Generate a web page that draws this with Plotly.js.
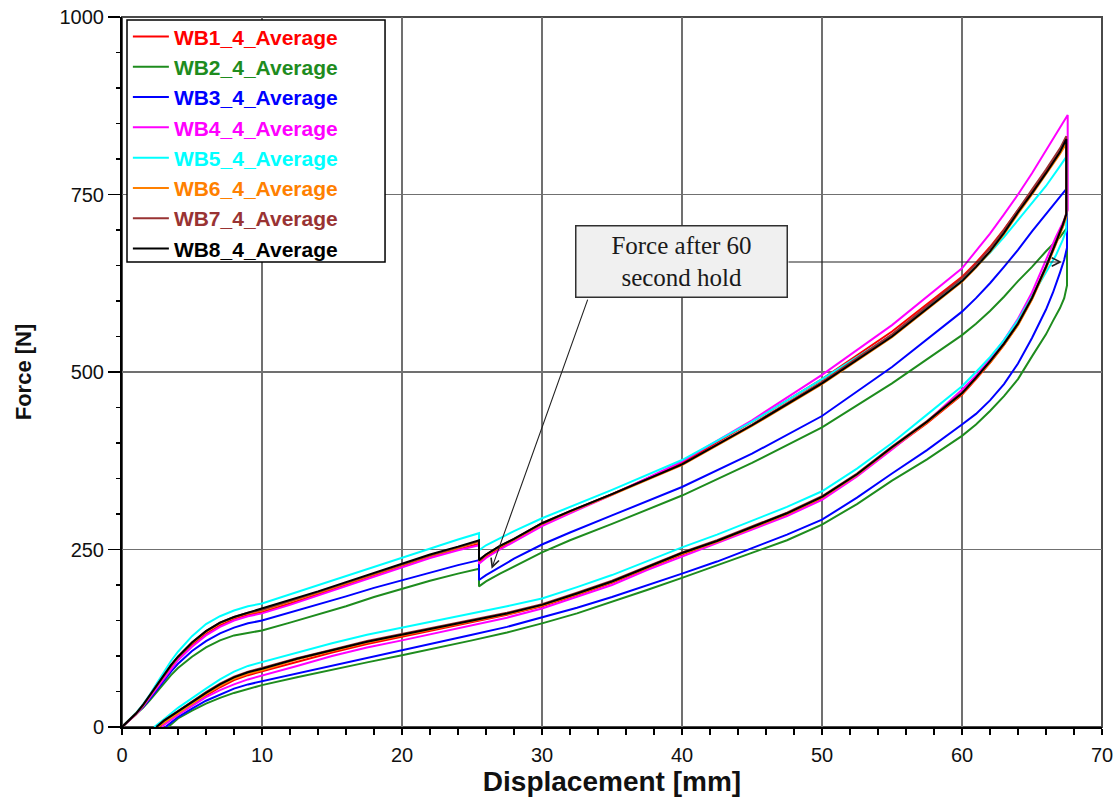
<!DOCTYPE html>
<html>
<head>
<meta charset="utf-8">
<script src="https://cdn.plot.ly/plotly-3.0.1.min.js"></script>
<style>
  html, body { margin: 0; padding: 0; background: #ffffff; }
  #chart { width: 1115px; height: 801px; }
</style>
</head>
<body>
<div id="chart"></div>
<script>
// Displacement grids shared by the loading branches (mm)
const preHoldX  = [0, 0.5, 1, 1.5, 2, 2.5, 3, 3.5, 4, 5, 6, 7, 8, 9, 10, 12, 14, 16, 18, 20, 22, 24, 25.5];
const postHoldX = [25.5, 26, 27, 28, 30, 32, 35, 40, 45, 50, 55, 60, 61, 62, 63, 64, 65, 66, 67];

const seriesNames  = ['WB1_4_Average', 'WB2_4_Average', 'WB3_4_Average', 'WB4_4_Average',
                      'WB5_4_Average', 'WB6_4_Average', 'WB7_4_Average', 'WB8_4_Average'];
const seriesColors = ['#ff0000', '#1e8c1e', '#0000ff', '#ff00ff',
                      '#00ffff', '#ff8000', '#993333', '#000000'];

// WB1
const wb1Pre  = [0, 9, 18, 30, 43, 58, 71, 84, 96, 116, 131, 143, 152, 158, 162, 174, 187, 200, 214, 227, 240, 250, 258];
const wb1Post = [232, 240, 252, 263, 285, 303, 328, 372, 430, 490, 557, 634, 654, 676, 701, 728, 754, 782, 810];
const wb1Peak = [67.45, 825, 720];
const wb1UnloadX = [67.2, 66.7, 66, 65, 64, 63, 62, 61, 60, 57.5, 55, 52.5, 50, 47.5, 45, 42.5, 40, 37.5, 35, 32.5, 30, 27.5, 25, 22.5, 20, 17.5, 15, 12.5, 10, 9, 8, 7, 6, 5, 4, 3, 2.6];
const wb1UnloadF = [705, 681, 647, 603, 567, 538, 513, 490, 468, 428, 392, 354, 322, 299, 279, 260, 243, 223, 203, 186, 170, 158, 148, 138, 128, 117, 105, 92, 78, 73, 66, 56, 44, 31, 18, 5, 0];

// WB2
const wb2Pre  = [0, 9, 17, 27, 38, 50, 62, 73, 83, 99, 112, 122, 129, 133, 136, 147, 158, 170, 183, 195, 206, 216, 223];
const wb2Post = [198, 205, 216, 226, 246, 263, 286, 326, 372, 422, 484, 552, 568, 586, 606, 628, 648, 670, 690];
const wb2Peak = [67.5, 703, 622];
const wb2UnloadX = [67.3, 67, 66.5, 66, 65, 64.5, 64, 63, 62, 61, 60, 57.5, 55, 52.5, 50, 47.5, 45, 42.5, 40, 37.5, 35, 32.5, 30, 27.5, 25, 22.5, 20, 17.5, 15, 12.5, 10, 9, 8, 7, 6, 5, 4, 3.3];
const wb2UnloadF = [604, 590, 572, 553, 522, 505, 490, 466, 445, 426, 410, 377, 347, 314, 285, 263, 245, 227, 210, 193, 176, 160, 146, 133, 122, 111, 101, 91, 81, 70, 59, 54, 48, 41, 33, 23, 12, 0];

// WB3
const wb3Pre  = [0, 9, 18, 28, 40, 53, 66, 78, 89, 107, 121, 132, 140, 146, 150, 161, 172, 184, 196, 207, 218, 228, 235];
const wb3Post = [207, 214, 226, 237, 257, 274, 298, 338, 385, 438, 507, 585, 604, 625, 648, 672, 698, 722, 746];
const wb3Peak = [67.5, 759, 675];
const wb3UnloadX = [67.3, 67, 66.5, 66, 65, 64, 63, 62, 61, 60, 57.5, 55, 52.5, 50, 47.5, 45, 42.5, 40, 37.5, 35, 32.5, 30, 27.5, 25, 22.5, 20, 17.5, 15, 12.5, 10, 9, 8, 7, 6, 5, 4, 3.1];
const wb3UnloadF = [658, 640, 612, 588, 548, 512, 483, 460, 441, 426, 390, 357, 323, 292, 271, 252, 233, 216, 199, 183, 168, 154, 141, 130, 119, 108, 98, 87, 76, 65, 60, 54, 46, 37, 26, 14, 0];

// WB4
const wb4Pre  = [0, 9, 18, 29, 42, 56, 69, 82, 94, 113, 129, 141, 150, 156, 160, 172, 185, 198, 212, 225, 238, 249, 256];
const wb4Post = [230, 238, 250, 261, 283, 301, 327, 374, 432, 496, 566, 646, 670, 695, 722, 750, 780, 812, 843];
const wb4Peak = [67.55, 862, 728];
const wb4UnloadX = [67.3, 66.7, 66, 65, 64, 63, 62, 61, 60, 57.5, 55, 52.5, 50, 47.5, 45, 42.5, 40, 37.5, 35, 32.5, 30, 27.5, 25, 22.5, 20, 17.5, 15, 12.5, 10, 9, 8, 7, 6, 5, 4, 3, 2.85];
const wb4UnloadF = [714, 690, 658, 612, 575, 545, 518, 495, 475, 430, 391, 353, 320, 297, 278, 259, 241, 221, 200, 183, 167, 154, 143, 133, 122, 112, 100, 86, 72, 67, 60, 52, 42, 30, 17, 3, 0];

// WB5
const wb5Pre  = [0, 10, 20, 32, 46, 62, 78, 93, 106, 128, 145, 156, 164, 170, 174, 187, 200, 213, 226, 239, 251, 264, 273];
const wb5Post = [249, 256, 266, 276, 294, 310, 334, 376, 430, 490, 552, 630, 648, 668, 690, 714, 738, 762, 790];
const wb5Peak = [67.45, 803, 700];
const wb5UnloadX = [67.2, 66.7, 66, 65, 64, 63, 62, 61, 60, 57.5, 55, 52.5, 50, 47.5, 45, 42.5, 40, 37.5, 35, 32.5, 30, 27.5, 25, 22.5, 20, 17.5, 15, 12.5, 10, 9, 8, 7, 6, 5, 4, 3, 2.3];
const wb5UnloadF = [686, 664, 640, 606, 573, 545, 521, 500, 480, 440, 400, 364, 332, 310, 290, 271, 253, 233, 214, 197, 181, 170, 160, 150, 141, 130, 118, 105, 92, 86, 78, 67, 54, 41, 27, 11, 0];

// WB6
const wb6Pre  = [0, 9, 19, 30, 44, 59, 73, 86, 98, 118, 134, 146, 154, 160, 164, 176, 189, 202, 215, 228, 241, 252, 261];
const wb6Post = [234, 242, 254, 264, 286, 303, 327, 369, 424, 483, 549, 627, 647, 669, 694, 723, 750, 778, 807];
const wb6Peak = [67.45, 822, 718];
const wb6UnloadX = [67.2, 66.7, 66, 65, 64, 63, 62, 61, 60, 57.5, 55, 52.5, 50, 47.5, 45, 42.5, 40, 37.5, 35, 32.5, 30, 27.5, 25, 22.5, 20, 17.5, 15, 12.5, 10, 9, 8, 7, 6, 5, 4, 3, 2.55];
const wb6UnloadF = [704, 680, 646, 602, 566, 538, 513, 491, 469, 429, 393, 355, 323, 300, 280, 261, 244, 224, 204, 187, 171, 159, 149, 139, 130, 119, 107, 95, 80, 75, 68, 58, 46, 33, 20, 6, 0];

// WB7
const wb7Pre  = [0, 9, 19, 31, 45, 60, 74, 87, 99, 119, 135, 147, 155, 161, 165, 177, 190, 203, 216, 229, 242, 253, 262];
const wb7Post = [235, 243, 255, 265, 287, 304, 328, 370, 426, 486, 553, 632, 652, 674, 700, 729, 757, 785, 815];
const wb7Peak = [67.45, 832, 724];
const wb7UnloadX = [67.2, 66.7, 66, 65, 64, 63, 62, 61, 60, 57.5, 55, 52.5, 50, 47.5, 45, 42.5, 40, 37.5, 35, 32.5, 30, 27.5, 25, 22.5, 20, 17.5, 15, 12.5, 10, 9, 8, 7, 6, 5, 4, 3, 2.5];
const wb7UnloadF = [708, 683, 649, 605, 569, 540, 515, 492, 471, 431, 395, 357, 325, 302, 282, 263, 246, 226, 206, 189, 173, 161, 151, 141, 132, 121, 109, 97, 83, 78, 71, 61, 49, 36, 23, 9, 0];

// WB8
const wb8Pre  = [0, 9, 19, 31, 45, 60, 74, 87, 99, 119, 135, 147, 155, 161, 166, 178, 191, 204, 217, 230, 243, 254, 263];
const wb8Post = [235, 243, 255, 265, 287, 304, 328, 370, 425, 484, 550, 628, 648, 670, 696, 725, 752, 780, 810];
const wb8Peak = [67.45, 828, 722];
const wb8UnloadX = [67.2, 66.7, 66, 65, 64, 63, 62, 61, 60, 57.5, 55, 52.5, 50, 47.5, 45, 42.5, 40, 37.5, 35, 32.5, 30, 27.5, 25, 22.5, 20, 17.5, 15, 12.5, 10, 9, 8, 7, 6, 5, 4, 3, 2.45];
const wb8UnloadF = [707, 682, 648, 604, 568, 540, 515, 492, 470, 430, 394, 356, 324, 301, 281, 262, 245, 225, 205, 188, 172, 160, 150, 140, 131, 120, 108, 96, 82, 77, 70, 60, 48, 35, 22, 9, 0];

const seriesData = [
  [wb1Pre, wb1Post, wb1Peak, wb1UnloadX, wb1UnloadF],
  [wb2Pre, wb2Post, wb2Peak, wb2UnloadX, wb2UnloadF],
  [wb3Pre, wb3Post, wb3Peak, wb3UnloadX, wb3UnloadF],
  [wb4Pre, wb4Post, wb4Peak, wb4UnloadX, wb4UnloadF],
  [wb5Pre, wb5Post, wb5Peak, wb5UnloadX, wb5UnloadF],
  [wb6Pre, wb6Post, wb6Peak, wb6UnloadX, wb6UnloadF],
  [wb7Pre, wb7Post, wb7Peak, wb7UnloadX, wb7UnloadF],
  [wb8Pre, wb8Post, wb8Peak, wb8UnloadX, wb8UnloadF]
];

// Load to the 60 s hold, relax, reload to peak, relax at peak, then unload
const traces = seriesData.map(function (s, i) {
  const pre = s[0], post = s[1], peak = s[2], ux = s[3], uf = s[4];
  return {
    type: 'scatter',
    mode: 'lines',
    name: '<span style="color:' + seriesColors[i] + '">' + seriesNames[i] + '</span>',
    legendgroup: 'g' + (i + 1),
    x: preHoldX.concat(postHoldX, [peak[0], peak[0]], ux),
    y: pre.concat(post, [peak[1], peak[2]], uf),
    line: { color: seriesColors[i], width: 2 },
    hoverinfo: 'skip'
  };
});

const tickColor = '#000000';
const gridColor = '#707070';

const layout = {
  width: 1115,
  height: 801,
  margin: { l: 122, r: 13, t: 17, b: 74 },
  paper_bgcolor: '#ffffff',
  plot_bgcolor: '#ffffff',
  font: { family: 'Liberation Sans, Arial, sans-serif', color: '#111111' },
  showlegend: true,
  legend: {
    x: 0.006, y: 1.001, xanchor: 'left', yanchor: 'top',
    bgcolor: 'rgba(0,0,0,0)', borderwidth: 0,
    tracegroupgap: 0, itemwidth: 36,
    font: { family: 'Liberation Sans, Arial, sans-serif', size: 21, weight: 'bold' }
  },
  xaxis: {
    range: [0, 70], tick0: 0, dtick: 10,
    ticks: 'outside', ticklen: 6, tickwidth: 1.5, tickcolor: tickColor,
    showline: true, linecolor: '#000000', linewidth: 2,
    showgrid: true, gridcolor: gridColor, gridwidth: 1.6,
    zeroline: false, fixedrange: true,
    tickfont: { size: 20, color: '#111111' },
    ticklabelstandoff: 3,
    minor: { dtick: 2, tick0: 0, ticks: 'outside', ticklen: 6, tickwidth: 1.5, tickcolor: tickColor, showgrid: false },
    title: { text: 'Displacement [mm]', font: { size: 28, weight: 'bold', color: '#111111' }, standoff: 6 }
  },
  xaxis2: {
    overlaying: 'x', anchor: 'y', side: 'bottom',
    range: [0, 70], tick0: 0, dtick: 10,
    ticks: 'inside', ticklen: 14, tickwidth: 1.5, tickcolor: tickColor,
    showticklabels: false, showgrid: false, showline: false, zeroline: false, fixedrange: true,
    minor: { dtick: 2, tick0: 0, ticks: 'inside', ticklen: 6, tickwidth: 1.5, tickcolor: tickColor, showgrid: false }
  },
  yaxis: {
    range: [0, 1000], tick0: 0, dtick: 250,
    ticks: 'outside', ticklen: 12, tickwidth: 1.5, tickcolor: tickColor,
    showline: true, linecolor: '#000000', linewidth: 2,
    showgrid: true, gridcolor: gridColor, gridwidth: 1.6,
    zeroline: false, fixedrange: true,
    tickfont: { size: 20, color: '#111111' },
    ticklabelstandoff: 0,
    minor: { dtick: 50, tick0: 0, ticks: 'outside', ticklen: 4, tickwidth: 1.5, tickcolor: tickColor, showgrid: false },
    title: { text: 'Force [N]', font: { size: 22, weight: 'bold', color: '#111111' }, standoff: 22 }
  },
  yaxis2: {
    overlaying: 'y', anchor: 'x', side: 'left',
    range: [0, 1000], tick0: 0, dtick: 250,
    ticks: 'inside', ticklen: 8, tickwidth: 1.5, tickcolor: tickColor,
    showticklabels: false, showgrid: false, showline: false, zeroline: false, fixedrange: true,
    minor: { dtick: 50, tick0: 0, ticks: 'inside', ticklen: 6, tickwidth: 1.5, tickcolor: tickColor, showgrid: false }
  },
  shapes: [
    // plot frame
    { type: 'rect', xref: 'paper', yref: 'paper', x0: 0, x1: 1, y0: 0, y1: 1,
      line: { color: '#4a4a4a', width: 2 }, layer: 'below' },
    // legend panel
    { type: 'rect', xref: 'paper', yref: 'paper', x0: 0.0051, x1: 0.2684, y0: 0.6549, y1: 0.9958,
      fillcolor: '#ffffff', line: { color: '#000000', width: 1.5 }, layer: 'above' }
  ],
  annotations: [
    // pointer to the relaxation at the hold
    { xref: 'x', yref: 'y', axref: 'x', ayref: 'y',
      x: 26.4, y: 223, ax: 33.3, ay: 604, text: '',
      showarrow: true, arrowhead: 5, arrowsize: 1.5, arrowwidth: 1.1, arrowcolor: '#222222' },
    // pointer to the relaxation at peak displacement
    { xref: 'x', yref: 'y', axref: 'x', ayref: 'y',
      x: 67.14, y: 655, ax: 47.5, ay: 655, text: '',
      showarrow: true, arrowhead: 5, arrowsize: 1.5, arrowwidth: 1.1, arrowcolor: '#222222' },
    // callout label
    { xref: 'x', yref: 'y', x: 39.93, y: 655, xanchor: 'center', yanchor: 'middle',
      text: 'Force after 60<br>second hold', showarrow: false,
      font: { family: 'Liberation Serif, Times New Roman, serif', size: 25, color: '#1a1a1a' },
      bgcolor: '#f0f0f0', bordercolor: '#303030', borderwidth: 1.5, borderpad: 3,
      width: 204, height: 64, align: 'center' }
  ]
};

Plotly.newPlot('chart', traces, layout, { displayModeBar: false, staticPlot: true });
</script>
</body>
</html>
